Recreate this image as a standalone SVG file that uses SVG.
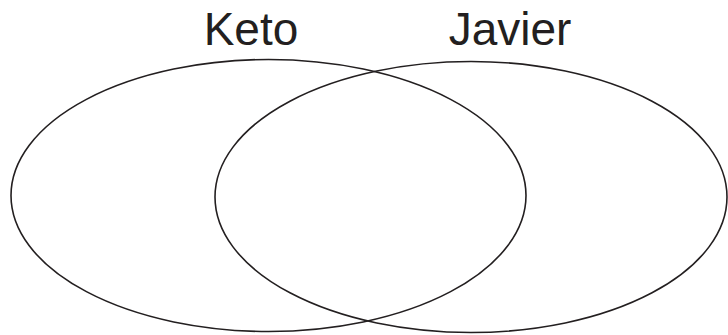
<svg xmlns="http://www.w3.org/2000/svg" width="728" height="335" viewBox="0 0 728 335">
<style>
.set{fill:none;stroke:#231f20;stroke-width:1.6}
.lbl{font-family:"Liberation Sans",Arial,sans-serif;font-size:46px;fill:#231f20;text-anchor:middle}
</style>
<rect width="728" height="335" fill="#fff"/>
<g id="keto">
<ellipse class="set" cx="268.5" cy="195.5" rx="257.5" ry="136"/>
<text class="lbl" x="251" y="45">Keto</text>
</g>
<g id="javier">
<ellipse class="set" cx="471" cy="197" rx="256" ry="135.5"/>
<text class="lbl" x="510" y="45">Javier</text>
</g>
<g id="connectors"></g>
</svg>
